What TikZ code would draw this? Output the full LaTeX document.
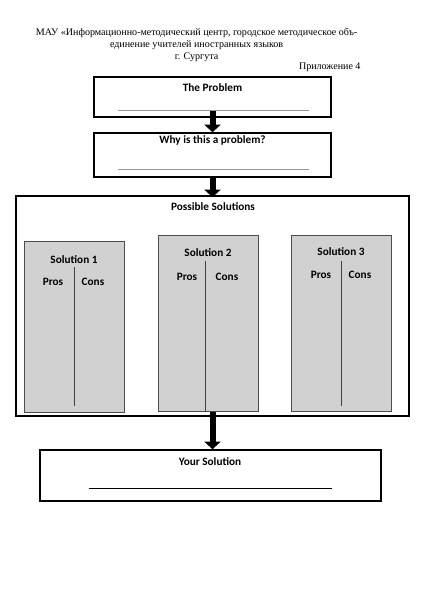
\documentclass[tikz,border=0pt]{standalone}
\usepackage{fontspec}
\setmainfont{Liberation Serif}
\newfontfamily\calibri{Carlito}
\usepackage{tikz}
\usetikzlibrary{calc,positioning,arrows.meta,backgrounds}

\begin{document}
\begin{tikzpicture}[
		box/.style={shape=rectangle,draw,line width=2.2pt,fill=white},
		solbox/.style={shape=rectangle,draw=black!70,line width=1pt,fill=black!18,minimum width=5cm},
		head/.style={font=\calibri\bfseries\fontsize{16}{18}\selectfont},
		blank/.style={line width=0.9pt,draw=black!40},
		divider/.style={line width=0.9pt,draw=black!75},
		blockarrow/.style={line width=0.3cm,-{Triangle[width=0.8cm,length=0.38cm]}}]
		\useasboundingbox (0,0) rectangle (21.2,-30);
		% header
		\node(hdr) at (9.83,-2.25) [align=center,font=\fontsize{14.3}{17}\selectfont] {МАУ «Информационно-методический центр, городское методическое объ-\\единение учителей иностранных языков\\г. Сургута};
		\node(app) at (18.15,-3.35) [anchor=east,font=\fontsize{14.3}{17}\selectfont] {Приложение 4};
		% problem boxes
		\node(prob) at (10.625,-4.85) [box,minimum width=11.85cm,minimum height=2cm] {};
		\node at (10.625,-4.4) [head] {The Problem};
		\draw [blank] (5.9,-5.5) -- (15.45,-5.5);
		\node(why) at (10.625,-7.75) [box,minimum width=11.85cm,minimum height=2.2cm] {};
		\node at (10.625,-7.0) [head] {Why is this a problem?};
		\draw [blank] (5.9,-8.45) -- (15.45,-8.45);
		% possible solutions
		\node(poss) at (10.625,-15.3) [box,minimum width=19.65cm,minimum height=11cm] {};
		\node at (10.65,-10.35) [head] {Possible Solutions};
		\node(s1) at (3.7,-16.325) [solbox,minimum height=8.55cm] {};
		\node at (3.7,-13.0) [head] {Solution 1};
		\node at (2.65,-14.1) [head] {Pros};
		\node at (4.65,-14.1) [head] {Cons};
		\draw [divider] (3.7,-13.35) -- (3.7,-20.3);
		\node(s2) at (10.4,-16.15) [solbox,minimum height=8.8cm] {};
		\node at (10.4,-12.65) [head] {Solution 2};
		\node at (9.35,-13.85) [head] {Pros};
		\node at (11.35,-13.85) [head] {Cons};
		\draw [divider] (10.27,-13.05) -- (10.27,-20.55);
		\node(s3) at (17.05,-16.15) [solbox,minimum height=8.8cm] {};
		\node at (17.05,-12.6) [head] {Solution 3};
		\node at (16.05,-13.75) [head] {Pros};
		\node at (18.0,-13.75) [head] {Cons};
		\draw [divider] (17.05,-13.05) -- (17.05,-20.3);
		% your solution
		\node(yours) at (10.525,-23.775) [box,minimum width=17.05cm,minimum height=2.55cm] {};
		\node at (10.5,-23.1) [head] {Your Solution};
		\draw [line width=1.2pt] (4.45,-24.4) -- (16.6,-24.4);
		% arrows
		\draw [blockarrow] ([yshift=0.35cm]prob.south) -- (why.north);
		\draw [blockarrow] (why.south) -- ([yshift=-0.1cm]poss.north);
		\draw [blockarrow] ([yshift=0.25cm]poss.south) -- (poss.south |- yours.north);
	\end{tikzpicture}
\end{document}
